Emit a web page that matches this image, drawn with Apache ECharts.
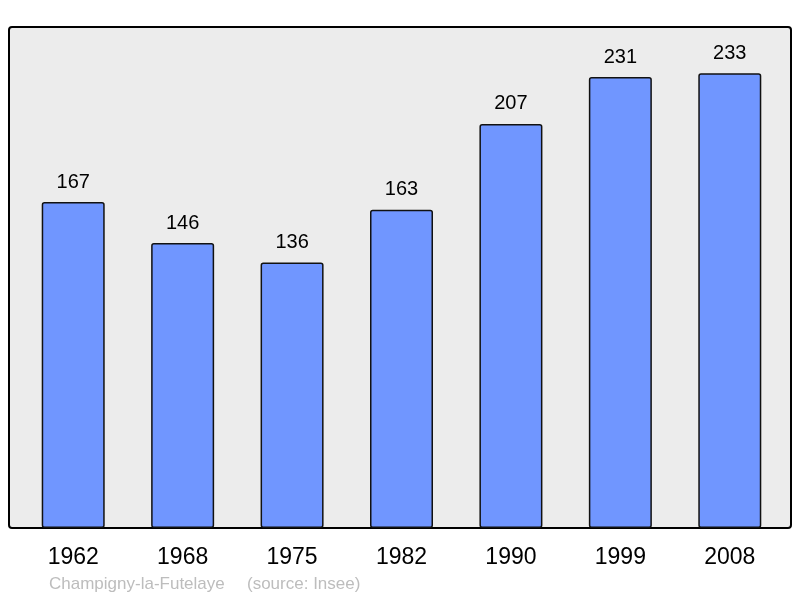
<!DOCTYPE html>
<html>
<head>
<meta charset="utf-8">
<script src="https://cdn.jsdelivr.net/npm/echarts@6/dist/echarts.min.js"></script>
<style>html,body{margin:0;padding:0;background:#fff;}#c{width:800px;height:598px;}</style>
</head>
<body>
<div id="c"></div>
<script>
const years = ['1962','1968','1975','1982','1990','1999','2008'];
const population = [167,146,136,163,207,231,233];
const footerPlace = 'Champigny-la-Futelaye';
const footerSource = '(source: Insee)';

const chart = echarts.init(document.getElementById('c'), null, {renderer:'canvas'});
chart.setOption({
  animation:false,
  backgroundColor:'#ffffff',
  graphic:[
    {type:'rect', z:-10, shape:{x:9,y:27,width:782,height:501,r:3},
     style:{fill:'#ececec', stroke:'#000', lineWidth:2}},
    {type:'text', left:49, top:576, style:{text:footerPlace, fill:'#bdbdbd', font:'17px "Liberation Sans", Arial, sans-serif'}},
    {type:'text', left:247, top:576, style:{text:footerSource, fill:'#bdbdbd', font:'17px "Liberation Sans", Arial, sans-serif'}}
  ],
  grid:{left:18.5, width:766, top:40, bottom:70, containLabel:false},
  xAxis:{type:'category', data:years,
    axisLine:{show:false}, axisTick:{show:false},
    axisLabel:{color:'#000', fontSize:23, fontFamily:'"Liberation Sans", Arial, sans-serif', margin:18}},
  yAxis:{type:'value', min:0, max:250, show:false, splitLine:{show:false}},
  series:[{type:'bar', data:population, barWidth:63,
    itemStyle:{color:'#7096ff', borderColor:'#111', borderWidth:1.5, borderRadius:2},
    label:{show:true, position:'top', distance:10, color:'#000', fontSize:20,
      fontFamily:'"Liberation Sans", Arial, sans-serif'}}]
});
</script>
</body>
</html>
